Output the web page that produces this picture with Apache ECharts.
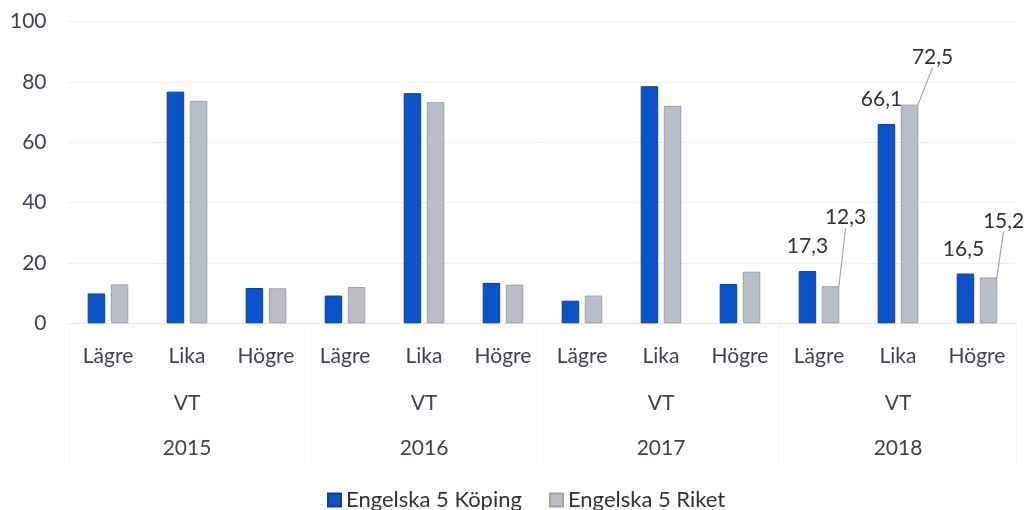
<!DOCTYPE html>
<html>
<head>
<meta charset="utf-8">
<script src="https://cdn.jsdelivr.net/npm/echarts@6/dist/echarts.min.js"></script>
<style>html,body{margin:0;padding:0;background:#fff;}#c{width:1027px;height:510px;}</style>
</head>
<body>
<div id="c"></div>
<script>
var categories = ['Lägre','Lika','Högre','Lägre','Lika','Högre','Lägre','Lika','Högre','Lägre','Lika','Högre'];
var terms = ['VT','VT','VT','VT'];
var years = ['2015','2016','2017','2018'];
var seriesNames = ['Engelska 5 Köping','Engelska 5 Riket'];
var koping = [9.9, 76.8, 11.7, 9.2, 76.3, 13.4, 7.5, 78.6, 13.0, 17.3, 66.1, 16.5];
var riket  = [12.9, 73.8, 11.6, 12.0, 73.3, 12.8, 9.2, 72.1, 17.1, 12.3, 72.5, 15.2];
var yTicks = [0, 20, 40, 60, 80, 100];

var FONT = 'Lato';
var labelled = function (i) { return i >= 9; };
function fmt(v) { return String(v).replace('.', ','); }

function mk(values) {
  return values.map(function (v, i) {
    return { value: v, label: { show: labelled(i) } };
  });
}
var grayOffsets = { 9: [15, -53], 10: [23, -32], 11: [15, -41] };
var blueOffsets = { 9: [0, 0], 10: [-5, 0], 11: [-2, 0] };

var chart = echarts.init(document.getElementById('c'), null, { renderer: 'canvas' });
chart.setOption({
  animation: false,
  textStyle: { fontFamily: FONT },
  grid: { left: 68.5, right: 10.5, top: 21.7, bottom: 186.7 },
  legend: {
    data: seriesNames,
    left: 322, top: 484,
    itemWidth: 13, itemHeight: 13, itemGap: 27,
    icon: 'rect',
    textStyle: { fontFamily: FONT, fontSize: 22, color: '#333' }
  },
  xAxis: [
    {
      type: 'category', data: categories, position: 'bottom',
      axisLine: { show: true, lineStyle: { color: '#e6e6e6' } },
      axisTick: { show: false },
      axisLabel: { margin: 22, fontSize: 21, color: '#3c4450', fontFamily: FONT, interval: 0 }
    },
    {
      type: 'category', data: terms, position: 'bottom',
      axisLine: { show: false }, axisTick: { show: false },
      axisLabel: { margin: 69, fontSize: 21, color: '#3c4450', fontFamily: FONT, interval: 0 }
    },
    {
      type: 'category', data: years, position: 'bottom',
      axisLine: { show: false },
      axisTick: { show: true, length: 142, lineStyle: { color: '#f2f2f2' } },
      axisLabel: { margin: 114, fontSize: 21, color: '#3c4450', fontFamily: FONT, interval: 0 }
    }
  ],
  yAxis: {
    type: 'value', min: 0, max: 100, interval: 20,
    axisLine: { show: false }, axisTick: { show: false },
    splitLine: { lineStyle: { color: '#ededed' } },
    axisLabel: {
      margin: 22, fontSize: 21, color: '#3c4450', fontFamily: FONT,
      formatter: function (v) { return yTicks.indexOf(v) >= 0 ? String(v) : ''; }
    }
  },
  series: [
    {
      name: seriesNames[0], type: 'bar', xAxisIndex: 0,
      data: mk(koping),
      barWidth: 17.5, barGap: '32%',
      itemStyle: { color: '#0c52c8', borderColor: '#0a3f9c', borderWidth: 1 },
      label: {
        position: 'top', distance: 14, fontSize: 21, color: '#333', fontFamily: FONT,
        formatter: function (p) { return fmt(p.value); }
      },
      labelLayout: function (p) {
        var o = blueOffsets[p.dataIndex] || [0, 0];
        return { dx: o[0], dy: o[1] };
      }
    },
    {
      name: seriesNames[1], type: 'bar', xAxisIndex: 0,
      data: mk(riket),
      barWidth: 17.5,
      itemStyle: { color: '#b8bec8', borderColor: '#9ca2ab', borderWidth: 1 },
      label: {
        position: 'top', distance: 5, fontSize: 21, color: '#333', fontFamily: FONT,
        formatter: function (p) { return fmt(p.value); }
      },
      labelLine: { show: true, lineStyle: { color: '#a6a6a6', width: 1.2 } },
      labelLayout: function (p) {
        var o = grayOffsets[p.dataIndex] || [0, 0];
        return { dx: o[0], dy: o[1] };
      }
    }
  ]
});
</script>
</body>
</html>
